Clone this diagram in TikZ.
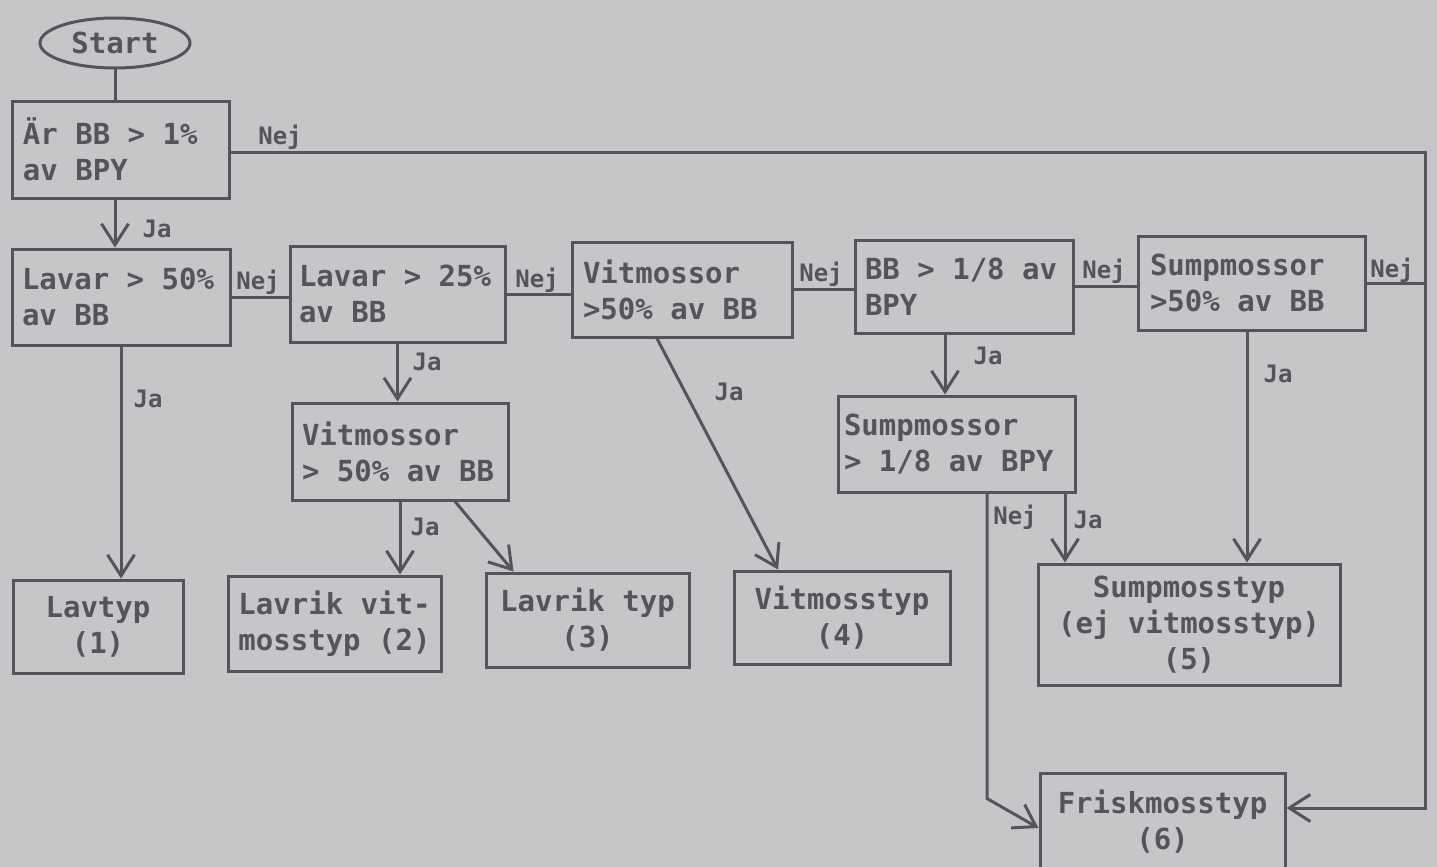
\documentclass[tikz,border=0pt]{standalone}
\usepackage{fontspec}
\newfontfamily\monof{DejaVu Sans Mono}
\newcommand\fixsp{\fontdimen2\font=0.602em\fontdimen3\font=0pt\fontdimen4\font=0pt\relax}
\usetikzlibrary{arrows.meta,shapes.geometric,calc}
\definecolor{bg}{RGB}{197,198,200}
\definecolor{ink}{RGB}{84,85,89}
\begin{document}
\begin{tikzpicture}[x=1pt,y=-1pt,
  box/.style={draw=ink, line width=3pt, text=ink, font=\monof\bfseries\fontsize{29}{36}\selectfont\fixsp, inner ysep=0pt, align=flush left},
  endbox/.style={box, align=flush center},
  lbl/.style={text=ink, font=\monof\bfseries\fontsize{24}{28}\selectfont, inner sep=0pt},
  con/.style={draw=ink, line width=3pt},
  arr/.style={con, -{Straight Barb[length=21pt,width=27pt]}}]
\clip (0,0) rectangle (1437,867);
\fill[bg] (0,0) rectangle (1437,867);

\node[box, ellipse, align=center, inner sep=0pt, minimum width=150pt, minimum height=50pt] (Start) at (115,43) {Start};

\node[box, text width=195pt, inner xsep=11pt, minimum height=97pt] (A) at (120.5,149.5) {Är BB > 1\%\\av BPY};
\node[box, text width=198pt, inner xsep=10pt, minimum height=96pt] (B) at (121,297) {Lavar > 50\%\\av BB};
\node[box, text width=197pt, inner xsep=9pt, minimum height=96pt] (C) at (397.5,294) {Lavar > 25\%\\av BB};
\node[box, text width=198pt, inner xsep=11pt, minimum height=95pt] (D) at (682,289.5) {Vitmossor\\>50\% av BB};
\node[box, text width=198pt, inner xsep=10pt, minimum height=93pt] (E) at (964,286.5) {BB > 1/8 av\\BPY};
\node[box, text width=203pt, inner xsep=12pt, minimum height=94pt] (F) at (1251.5,283) {Sumpmossor\\>50\% av BB};
\node[box, text width=196pt, inner xsep=10pt, minimum height=97pt] (G) at (400,451.5) {Vitmossor\\> 50\% av BB};
\node[box, text width=225pt, inner xsep=6pt, minimum height=96pt] (H) at (956.5,444) {Sumpmossor\\> 1/8 av BPY};

\node[endbox, text width=156pt, inner xsep=7pt, minimum height=93pt] (T1) at (98,626.5) {Lavtyp\\(1)};
\node[endbox, text width=199pt, inner xsep=7pt, minimum height=95pt] (T2) at (334.5,623.5) {Lavrik vit-\\mosstyp (2)};
\node[endbox, text width=189pt, inner xsep=7pt, minimum height=94pt] (T3) at (587.5,620) {Lavrik typ\\(3)};
\node[endbox, text width=202pt, inner xsep=7pt, minimum height=93pt] (T4) at (842,617.5) {Vitmosstyp\\(4)};
\node[endbox, text width=288pt, inner xsep=7pt, minimum height=121pt] (T5) at (1189,624.5) {Sumpmosstyp\\(ej vitmosstyp)\\(5)};
\node[endbox, text width=231pt, inner xsep=7pt, minimum height=98pt] (T6) at (1162.5,822) {Friskmosstyp\\(6)};

\node[lbl] (l1) at (280,137) {Nej};
\node[lbl] (l2) at (157,229) {Ja};
\node[lbl] (l3) at (258,282) {Nej};
\node[lbl] (l4) at (537,280) {Nej};
\node[lbl] (l5) at (821,274) {Nej};
\node[lbl] (l6) at (1104,271) {Nej};
\node[lbl] (l7) at (1392,270) {Nej};
\node[lbl] (l8) at (427,362) {Ja};
\node[lbl] (l9) at (148,399) {Ja};
\node[lbl] (l10) at (425,527) {Ja};
\node[lbl] (l11) at (729,392) {Ja};
\node[lbl] (l12) at (988,356) {Ja};
\node[lbl] (l13) at (1278,374) {Ja};
\node[lbl] (l14) at (1015,517) {Nej};
\node[lbl] (l15) at (1088,520) {Ja};

\coordinate (rc) at (1425,152);
\coordinate (rb) at (1425,808);

\draw[con] (Start.south) -- (Start.south |- A.north);
\draw[arr] (Start.south |- A.south) -- (Start.south |- B.north);
\draw[arr] (A.east |- rc) -- (rc) -- (rb) -- (T6.east |- rb);
\draw[con] (B.east) -- (C.west |- B.east);
\draw[con] (C.east) -- (D.west |- C.east);
\draw[con] (D.east) -- (E.west |- D.east);
\draw[con] (E.east) -- (F.west |- E.east);
\draw[con] (F.east) -- (F.east -| rc);
\draw[arr] (B.south) -- (B.south |- T1.north);
\draw[arr] (C.south) -- (C.south |- G.north);
\draw[arr] (G.south) -- (G.south |- T2.north);
\draw[arr] ($(G.south)+(55,0)$) -- ($(T3.north west)+(29,0)$);
\draw[arr] ($(D.south)+(-25,0)$) -- ($(T4.north)+(-64,0)$);
\draw[arr] ($(E.south)+(-19,0)$) coordinate (e1) -- (e1 |- H.north);
\draw[arr] ($(H.south)+(108.5,0)$) coordinate (h1) -- (h1 |- T5.north);
\draw[arr] ($(H.south)+(30.5,0)$) coordinate (h2) -- ($(h2)+(0,305)$) -- ($(T6.west)+(0,6)$);
\draw[arr] ($(F.south)+(-4.5,0)$) coordinate (f1) -- (f1 |- T5.north);
\end{tikzpicture}
\end{document}
